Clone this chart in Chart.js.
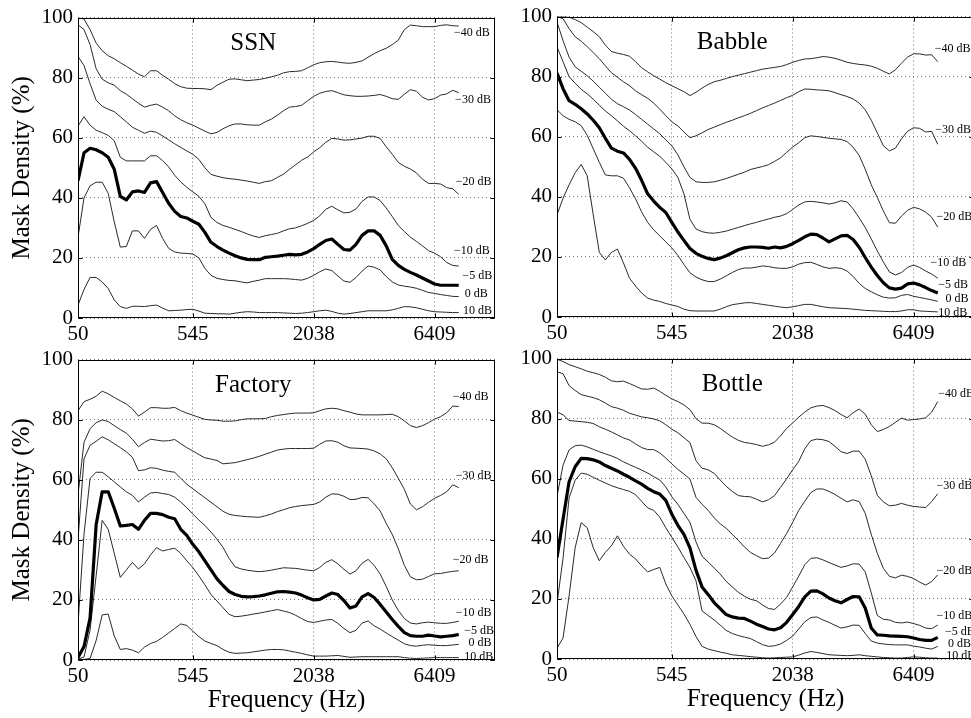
<!DOCTYPE html>
<html>
<head>
<meta charset="utf-8">
<script src="https://cdn.jsdelivr.net/npm/chart.js@4.4.1/dist/chart.umd.min.js"></script>
<style>
  html, body { margin: 0; padding: 0; background: #fff; overflow: hidden; width: 971px; height: 718px; }
  canvas { position: absolute; }
</style>
</head>
<body>
<canvas id="ssn"     width="495" height="360" style="left:0px;top:0px"></canvas>
<canvas id="babble"  width="495" height="360" style="left:479px;top:-1px"></canvas>
<canvas id="factory" width="495" height="376" style="left:0px;top:342px"></canvas>
<canvas id="bottle"  width="495" height="376" style="left:479px;top:341px"></canvas>
<script>
// Gammatone channel index (1..64) and the frequency labels shown at channels 1, 20, 40, 60
const channels = Array.from({ length: 64 }, (_, i) => i + 1);
const freqTickChannels = [1, 20, 40, 60];
const freqTickLabels = ['50', '545', '2038', '6409'];
const snrLabels = ['\u221240 dB', '\u221230 dB', '\u221220 dB', '\u221210 dB', '\u22125 dB', '0 dB', '10 dB'];

// ---- SSN: mask density (%) per channel, one array per SNR ----
const ssnM40 = [100, 99.5, 96, 91.5, 89, 87.3, 86.3, 85, 83.8, 82.5, 81.2, 80.3, 82.3, 82.3, 80.8, 79.5, 78, 77, 76.5, 76.4, 76.4, 76.3, 76, 77.5, 78.5, 79.5, 79.6, 79.3, 79, 79.2, 79.4, 79.8, 80.3, 80.8, 81.6, 82, 82.1, 82.3, 83.3, 84.3, 85, 85.3, 85.4, 85.2, 84.9, 84.8, 85.1, 85.6, 86.8, 88, 89, 89.8, 91, 92.5, 96, 97.5, 97.3, 97, 97, 97, 97.4, 97.6, 97.3, 97.2];
const ssnM30 = [97.6, 96, 91, 83, 79.5, 78.3, 77.5, 75.7, 74.5, 73, 71.5, 70.2, 70.8, 71.2, 70.2, 69, 67.3, 66, 65, 64.2, 63.2, 62.2, 61.3, 61.8, 63, 64, 64.6, 64.6, 64.3, 64.2, 64.2, 65.3, 66.2, 67.5, 69, 70.2, 70.4, 70.8, 72.3, 73.8, 74.8, 75.4, 75.7, 75, 74.3, 74, 73.8, 73.8, 73.9, 74.1, 74.4, 73.8, 73, 72.8, 74.5, 76, 75.5, 73.5, 72.6, 73, 74.2, 74.6, 75.8, 75];
const ssnM20 = [87.1, 84, 78, 72.5, 70.5, 69.5, 68.7, 67, 65.3, 63.5, 62.5, 61.5, 62.2, 61.8, 60.6, 59.3, 58, 56.8, 55.6, 54.5, 52.8, 50, 47.8, 47.2, 46.7, 46.4, 46.2, 45.9, 45.6, 45.2, 44.8, 45.4, 45.7, 46.8, 47.9, 49.5, 51, 52.5, 53.6, 55.3, 56.7, 58.5, 59.8, 59.6, 59.2, 59.3, 59.6, 59.9, 60.5, 60.5, 59.8, 57, 54.5, 51.8, 50.5, 49.6, 48.3, 46.2, 44.8, 44.8, 44.6, 43.4, 43, 41.2];
const ssnM10 = [63.9, 67, 64.2, 62.5, 61.7, 60.8, 59, 53.5, 52.3, 52.3, 52.3, 52.3, 54, 54, 52.4, 50.3, 47.5, 45.3, 43.5, 42, 40.5, 38, 33.5, 31.8, 30.8, 30.2, 29.5, 28.8, 28, 27.3, 26.8, 27.4, 27.8, 28.2, 29, 29.7, 30, 30.7, 31.5, 32.5, 34, 36.2, 37.2, 36, 35, 35.2, 36.3, 38.8, 40.3, 40.3, 39.1, 36.6, 33.8, 30.8, 28.8, 26.9, 25.5, 24, 22.4, 21.6, 20.4, 18.5, 17.5, 17.3];
const ssnM5 = [45.7, 55, 56.5, 56, 55, 53.5, 49.5, 40.5, 39.3, 42, 42.3, 41.8, 45, 45.4, 41.8, 38.2, 35.5, 33.8, 33.3, 32.2, 31.2, 28.5, 25.2, 23.8, 22.6, 21.6, 20.7, 20, 19.5, 19.4, 19.4, 20.2, 20.4, 20.6, 20.9, 21.2, 21, 21.2, 22, 23.1, 24.5, 25.8, 26.3, 24.5, 22.8, 22.6, 24.5, 27.5, 29, 29, 27.5, 24, 19.5, 17.5, 16.2, 15.2, 14.3, 13.3, 12.3, 11.3, 10.9, 10.9, 10.9, 10.9];
const ssn0 = [26.9, 40, 44, 45.2, 45.2, 41.5, 32, 23.6, 23.8, 29, 29, 26.5, 29.5, 30.8, 26.5, 23.2, 22, 21.6, 21.5, 21.3, 20, 16.5, 14.2, 13.2, 12.8, 12.5, 12.4, 12, 11.7, 12.2, 12.6, 13.1, 13.1, 13.1, 13.1, 13, 12.8, 12.6, 13.2, 14.2, 15.4, 16.3, 15.8, 14, 12.3, 11.9, 13.5, 15.6, 17.3, 16.9, 16, 13.8, 12, 11, 10.6, 10.3, 9.9, 9.2, 8.5, 8.2, 7.8, 7.5, 7.2, 7.1];
const ssn10 = [4.3, 9.5, 13.5, 13.5, 12, 9.8, 6, 3.8, 3.2, 3.9, 3.9, 3.8, 4.1, 4.3, 3.3, 2.4, 2.5, 2.6, 2.8, 2.9, 2.3, 1.6, 1.5, 1.4, 1.4, 1.3, 1.6, 1.9, 2.1, 2, 1.8, 1.8, 1.8, 1.8, 1.7, 1.6, 1.5, 1.6, 1.8, 2.1, 2.4, 2.6, 2.2, 1.6, 1.3, 1.5, 1.8, 2.1, 2.4, 2.4, 2.4, 2.4, 2.7, 3.2, 3.8, 3.7, 3.4, 2.9, 2.4, 2.1, 2, 1.9, 1.8, 1.8];

// ---- Babble ----
const babbleM40 = [100, 100, 99.8, 99, 98, 96.5, 95, 93.3, 90.5, 88.4, 87.8, 87.4, 86.8, 85, 83, 81.6, 80.3, 79.2, 78, 77, 76, 75, 73.7, 74.8, 76.2, 77.4, 78.3, 78.8, 79.4, 80, 80.5, 81, 81.5, 82, 82.5, 82.8, 83.1, 83.4, 84, 84.8, 85.4, 85.9, 86, 86.3, 86.7, 86.5, 86.1, 85.5, 84.8, 84.4, 84.1, 83.9, 83.5, 82.8, 81.8, 80.9, 82.3, 84.5, 86.5, 87.6, 87.6, 87.2, 87.3, 85];
const babbleM30 = [100, 99.3, 96, 93.3, 91.8, 90, 88, 86, 83.6, 81.3, 79.8, 78.3, 77, 75.3, 74, 72.8, 71.2, 69.2, 67, 65, 63.6, 61.6, 59.7, 60.3, 61.3, 62.4, 63.2, 64, 64.8, 65.5, 66.3, 67, 67.8, 68.7, 69.6, 70.4, 71.2, 72.1, 73, 73.8, 75, 75.9, 75.8, 75.6, 75.5, 75.3, 74.7, 74, 73.4, 72.6, 71.2, 69, 65.5, 61.3, 57, 55.3, 56.2, 59.3, 61.8, 63, 62.8, 61.6, 61.8, 57.5];
const babbleM20 = [98.2, 92, 86.5, 83.3, 81.8, 80.3, 78.5, 76.5, 74.5, 72.5, 71, 70, 68.9, 67.4, 65.8, 64.2, 62.6, 61, 59, 57, 54, 50, 46.5, 45, 44.8, 44.8, 45, 45.5, 46.1, 46.8, 47.5, 48.2, 49.1, 49.6, 50.1, 50.7, 51.8, 53, 54.8, 56.6, 58, 59.7, 60.3, 60.1, 59.8, 59.5, 59.3, 59.1, 58.4, 56.5, 53.8, 49.2, 44, 39.8, 35.3, 31.4, 31.2, 33.6, 35.5, 36.5, 36, 34.9, 33.2, 29.9];
const babbleM10 = [89.9, 85, 80, 77.8, 75.8, 74.3, 72.5, 70.5, 68.6, 67, 65.3, 63.5, 62, 60.3, 58.5, 56.5, 55, 53.5, 51.5, 49.3, 46.5, 41, 32.5, 29.3, 28.4, 28, 27.9, 28.2, 28.6, 29.2, 29.8, 30.4, 31, 31.5, 32.1, 32.6, 33.2, 33.6, 34.4, 35.8, 37.3, 38.3, 38.5, 38.3, 38, 37.6, 38, 38.7, 38.3, 36, 33, 29.8, 26, 22, 18.3, 15, 14, 14.8, 16.5, 17.3, 16.5, 15.3, 14.3, 12.9];
const babbleM5 = [81.2, 76, 72, 70.8, 69.3, 67.6, 65.5, 63, 59.5, 56.2, 55.2, 54.6, 52.5, 49.5, 45.5, 41, 38.6, 36.5, 34.8, 31.5, 28.3, 25.5, 22.8, 21.2, 20.2, 19.5, 19.1, 19.6, 20.4, 21.4, 22.4, 23, 23.3, 23.3, 23.2, 22.9, 23.3, 23, 23.5, 24.4, 25.5, 26.7, 27.6, 27.4, 26.3, 25, 26, 27, 27.2, 25.8, 23.2, 19.8, 16.6, 13.8, 11.4, 9.7, 9.3, 9.6, 11, 11.3, 10.7, 9.8, 8.8, 8];
const babble0 = [69, 67, 65.8, 65, 63.7, 60.5, 56, 51.5, 47.3, 47, 47, 46.2, 43, 39.3, 35, 31.5, 29, 27, 25, 23, 20.5, 17.5, 14.7, 13.3, 12.4, 11.8, 11.8, 12.6, 13.7, 14.8, 15.8, 16.3, 16.3, 16.6, 17, 16.8, 16.4, 16.2, 16.2, 16.7, 17.6, 18.1, 18.2, 17.5, 16.7, 16.2, 16.4, 16.2, 15.3, 13.5, 11.2, 9.5, 8.4, 7.4, 6.6, 6.3, 6.4, 7.2, 7.5, 6.9, 6.5, 6.1, 5.7, 5.2];
const babble10 = [34, 39.5, 44, 48, 50.8, 47, 34, 21.5, 19, 21.5, 22.6, 18, 12.9, 10.3, 8, 6.3, 5.6, 5.2, 4.5, 4, 3.5, 2.6, 2.1, 2, 2, 2, 2, 2.6, 3.4, 4.1, 4.4, 4.7, 4.8, 4.5, 4.2, 3.9, 3.6, 3.3, 3.1, 3.4, 3.8, 4.2, 4.2, 3.8, 3.4, 3.1, 3, 2.9, 2.8, 2.6, 2.4, 2.2, 2.1, 2, 1.9, 1.8, 1.8, 2, 2.4, 2.4, 2, 1.9, 1.8, 1.7];

// ---- Factory ----
const factoryM40 = [83, 86, 86.8, 87.8, 89.5, 88.6, 87.4, 86.3, 85.2, 83.6, 81.2, 82.5, 84, 84, 83.8, 83.8, 84.1, 83, 82.2, 81.5, 80.8, 80.1, 79.9, 79.8, 79.5, 79.5, 79.6, 80, 80.3, 80.3, 80.3, 80.4, 81, 81.4, 81.7, 82, 82.2, 82.2, 82.2, 82.3, 83, 83.6, 83.8, 83.6, 83, 82.5, 81.9, 81.6, 81.6, 81.6, 81.6, 81.7, 81.8, 81, 79.6, 78, 77.4, 78, 79, 80.2, 81, 82.3, 84.5, 84.4];
const factoryM30 = [55, 72.5, 77, 79, 79.9, 79.4, 78, 76.7, 75.5, 73.5, 71, 72.4, 73.5, 73.2, 72.9, 73, 73.4, 72, 70.7, 69.6, 68.4, 67.3, 66.9, 66.4, 65.3, 65.5, 65.7, 66.2, 66.7, 67.2, 67.8, 68.5, 69.2, 69.9, 70.2, 70.4, 70.4, 70.4, 70.4, 70.5, 71.8, 72.9, 73, 72.5, 71.3, 70.6, 70.5, 70.4, 70.2, 69.6, 68.6, 67, 64, 60.5, 56.8, 51.9, 50, 51, 52.5, 53.8, 54.8, 56, 58.3, 57.4];
const factoryM20 = [40, 67, 71.5, 72.8, 74.3, 73.3, 72, 70.7, 69.3, 67.5, 63, 63.3, 64, 63.8, 63.2, 62.8, 62.5, 60.5, 58.5, 57, 55.5, 54, 52.5, 51, 49.5, 48.5, 48.1, 47.9, 47.7, 47.6, 47.5, 48, 48.6, 49.4, 50, 50.7, 51.1, 51.4, 51.6, 51.8, 52.6, 54.2, 55.3, 55.2, 54.5, 53.4, 53.5, 54.1, 54, 52, 49.6, 45.5, 41.8, 37, 31.5, 27.7, 26.7, 26.9, 27.8, 28.7, 28.8, 29.2, 29.5, 29.7];
const factoryM10 = [12, 42, 60.5, 62.5, 62.5, 61, 59.3, 57.6, 56, 54.8, 52.6, 54.2, 55.6, 55.8, 55.4, 55.1, 54.2, 52.6, 50.7, 48.6, 46.6, 44.8, 42.6, 40.2, 37.5, 33.8, 31, 30.3, 29.9, 29.6, 29.4, 29.6, 29.9, 30.3, 30.7, 30.6, 30.5, 30.2, 29.9, 29.7, 30.8, 32.5, 33.4, 32, 30.2, 28.6, 29.7, 32.2, 33.5, 31.5, 28.6, 24.5, 20, 16.5, 13.8, 12.3, 12, 12.4, 12.6, 12.4, 12.2, 12.2, 12.5, 12.9];
const factoryM5 = [0.8, 4.5, 14, 45, 56, 56, 50.5, 44.6, 44.8, 45.1, 43.5, 46.5, 48.8, 48.8, 48.4, 47.5, 47, 43.5, 41.5, 38.5, 36, 33, 30, 27, 24.8, 22.8, 21.8, 21.2, 21, 21.1, 21.3, 21.7, 22.2, 22.7, 22.8, 22.6, 22.3, 21.6, 20.7, 20, 20.2, 21.3, 22.3, 21.8, 19.8, 17.3, 18, 21, 22.1, 20.8, 18.5, 16, 13.5, 11.2, 9.1, 8.1, 7.9, 7.9, 8.3, 8, 7.7, 7.9, 8.1, 8.5];
const factory0 = [0.3, 1, 10, 28, 46.5, 43.5, 35.5, 27.5, 30, 32.5, 30.3, 32, 35, 37.4, 36.3, 36.8, 37.2, 35.5, 33, 30.8, 28, 25, 21.8, 19.6, 17.4, 15.2, 14.4, 14.6, 14.9, 15.3, 15.6, 16, 16.4, 16.8, 16.3, 15.8, 14.9, 13.8, 12.8, 12.5, 12.9, 13.3, 13.5, 12.2, 10.5, 9.1, 9.9, 12.3, 13, 11.4, 10.3, 9, 7.8, 6.6, 5.4, 4.8, 4.6, 4.9, 5.1, 4.9, 4.8, 4.8, 5, 5.2];
const factory10 = [0.2, 0.2, 0.5, 6.5, 15, 15.3, 8, 3.5, 3.8, 3.3, 2.4, 4.3, 5.5, 6.2, 7.5, 9, 10.5, 12, 11.5, 9.6, 7.8, 6.3, 5.5, 4.8, 3.5, 2.6, 2.2, 2.3, 2.4, 2.7, 3, 3.3, 3.5, 3.5, 3.4, 3, 2.6, 2.2, 1.7, 1.3, 1.3, 1.3, 1.4, 1.5, 1.2, 0.9, 1, 1.1, 1.1, 1.1, 1.1, 1.1, 1.1, 1.1, 0.8, 0.6, 0.5, 0.6, 0.7, 0.8, 0.8, 0.8, 0.8, 0.8];

// ---- Bottle ----
const bottleM40 = [99.8, 99, 98, 97.3, 96.6, 95.8, 95.3, 94.7, 93.8, 92.6, 92.3, 92.5, 91.7, 90.8, 89.9, 89.8, 90.2, 89.1, 87.8, 86.6, 85.7, 84.6, 83, 80, 78.5, 78.5, 78, 76.8, 75.3, 73.9, 72.8, 72.1, 71.8, 71.4, 70.8, 71.3, 72.2, 74.3, 76.8, 78.6, 80.5, 82.2, 83.6, 84.2, 84.4, 83.7, 82.7, 81.4, 80.3, 82, 83.2, 81.5, 78, 75.7, 76.4, 77.4, 78.8, 80.2, 79.5, 79.7, 79.9, 80.3, 82.2, 85.7];
const bottleM30 = [95.6, 95, 91, 89.4, 88, 87.5, 87, 86.3, 85.2, 84, 83.5, 82.8, 81.8, 81.2, 80.6, 80.3, 79.9, 79.3, 78, 76.5, 75.3, 73.7, 72, 66, 63.5, 63, 61.8, 59.6, 57.5, 55.8, 54.4, 54.1, 54, 53.2, 52.3, 53, 54.4, 57.2, 60, 63, 65.8, 70, 72.7, 73.2, 73, 72.4, 70.8, 69, 68.4, 69.2, 69.2, 66.5, 61, 54.5, 52.3, 51, 51.2, 51.8, 51.2, 50.8, 50.6, 50.4, 52.4, 55];
const bottleM20 = [82.2, 81.3, 79.4, 79.2, 79, 78.8, 78.4, 77.3, 76.5, 75.6, 74.6, 73.6, 72.9, 71.6, 70.4, 69.7, 69.7, 68.6, 66.9, 65, 63.1, 61.6, 59.9, 53.8, 51.5, 49.5, 47, 45, 43.5, 41.5, 39.5, 37.3, 35.5, 34.4, 33.4, 33.6, 35.3, 38.5, 41.8, 45.5, 49.5, 52.5, 55.4, 56.6, 56.6, 55.8, 54.8, 53.5, 52.3, 53, 52.4, 48.5, 41.5, 35.2, 30.2, 27.5, 27, 27.9, 27.5, 26.8, 25.6, 24.6, 25.8, 28];
const bottleM10 = [54.2, 64.5, 69.6, 71, 71.2, 70.6, 69.8, 69, 68.3, 67.6, 66.8, 65.6, 64.7, 63.8, 62.9, 61.9, 60.7, 59.6, 57.3, 54, 51.5, 48.5, 45.5, 39, 34.2, 32.3, 30.3, 28.3, 25.8, 24, 22.2, 20.9, 19.9, 19.4, 18, 16.8, 16.5, 18.3, 20.5, 24, 27.6, 31.4, 33.5, 33.7, 33, 32.1, 31.3, 30.5, 31, 31.7, 31.6, 29, 22, 14.5, 13.2, 13, 12.2, 12, 12.3, 11.8, 11.2, 10.3, 10.1, 11.3];
const bottleM5 = [33.8, 46.5, 59, 64, 66.8, 66.7, 66.3, 65.6, 64.4, 63.5, 62.6, 61.5, 60.5, 59.3, 58.2, 56.8, 55.7, 54.9, 52.8, 48.2, 44.5, 41.5, 37, 29.5, 24, 21.5, 18.8, 16.8, 14.8, 14, 13.6, 13.5, 12.6, 11.6, 10.8, 10, 9.7, 10.4, 12.2, 14.8, 17.5, 20.7, 22.6, 22.7, 21.7, 20.3, 19.4, 18.7, 19.8, 20.8, 20.7, 17, 10.3, 8, 7.9, 7.7, 7.6, 7.5, 7.4, 7, 6.5, 6.2, 6.2, 7.2];
const bottle0 = [18.5, 33.5, 53.6, 59.5, 61.9, 61.5, 60.5, 59.5, 58.6, 57.7, 57, 56.4, 55.8, 54.7, 52.5, 50.3, 49.5, 47.2, 43.7, 40.5, 37.3, 33.8, 30.5, 26, 16, 14.5, 13, 11.3, 9.5, 8.5, 7.8, 7.3, 6.8, 5.8, 4.8, 4.2, 4.4, 5, 6.2, 7.6, 10, 12.4, 13.8, 14, 13, 12.2, 11.2, 10.3, 10.7, 11.3, 11.2, 8.5, 6, 5.3, 5, 4.8, 4.7, 4.7, 4.7, 4.3, 4, 3.6, 3.3, 4.2];
const bottle10 = [3.6, 7, 21, 37, 45.4, 43.7, 37, 32.7, 35.5, 37.7, 41, 37.5, 34.9, 33.3, 31, 29, 29.8, 30.5, 25, 21, 18, 15, 11.5, 7.5, 4.2, 3.3, 2.8, 2.3, 1.9, 1.4, 1.2, 1, 0.8, 0.6, 0.4, 0.3, 0.4, 0.5, 0.6, 0.7, 1.3, 2, 2.5, 2.2, 1.8, 1.4, 1.3, 1.2, 1.1, 1.2, 1.4, 1.1, 0.9, 0.7, 0.5, 0.4, 0.3, 0.3, 0.5, 0.7, 0.6, 0.4, 0.3, 0.3];

// Where each SNR label sits in each panel: [channel, mask density %]
const ssnLabelCh = [63.2, 63.4, 63.5, 63.2, 64.6, 65, 64.7];
const ssnLabelPct = [94.8, 72.5, 45.4, 22.2, 14.1, 7.9, 2.4];
const babbleLabelCh = [63.5, 63.6, 63.8, 62.8, 64.1, 65.3, 64.1];
const babbleLabelPct = [89.2, 62.3, 33.2, 18.0, 10.6, 5.9, 1.5];
const factoryLabelCh = [63.0, 63.5, 63.0, 63.5, 64.9, 65.6, 64.9];
const factoryLabelPct = [87.7, 61.3, 33.2, 15.8, 9.8, 5.7, 1.1];
const bottleLabelCh = [64.1, 63.8, 63.8, 63.8, 65.2, 65.7, 65.4];
const bottleLabelPct = [88.4, 57.5, 29.4, 14.5, 9.1, 4.9, 0.9];

const SERIF = "'Liberation Serif', 'Times New Roman', Times, serif";
const GRID = '#7a7a7a';

// Box around the axes, inward tick marks, panel name and SNR labels
const panelFrame = {
  id: 'panelFrame',
  afterDatasetsDraw(chart, args, opts) {
    const { ctx, chartArea: a, scales: { x, y } } = chart;
    ctx.save();
    ctx.beginPath();
    ctx.rect(a.left, a.top, a.right - a.left, a.bottom - a.top);
    ctx.clip();
    ctx.fillStyle = '#000';
    ctx.font = '25px ' + SERIF;
    ctx.textAlign = 'center';
    ctx.textBaseline = 'alphabetic';
    ctx.fillText(opts.name, x.getPixelForValue(30), y.getPixelForValue(89.3));
    ctx.font = '12px ' + SERIF;
    ctx.textAlign = 'left';
    ctx.textBaseline = 'middle';
    snrLabels.forEach((t, k) => {
      ctx.fillText(t, x.getPixelForValue(opts.labelCh[k]), y.getPixelForValue(opts.labelPct[k]));
    });
    ctx.restore();

    ctx.save();
    ctx.strokeStyle = '#000';
    ctx.lineWidth = 1;
    const L = Math.round(a.left) + 0.5, R = Math.round(a.right) - 0.5;
    const T = Math.round(a.top) + 0.5, B = Math.round(a.bottom) - 0.5;
    ctx.strokeRect(L, T, R - L, B - T);
    const tl = 4;
    ctx.beginPath();
    freqTickChannels.forEach(c => {
      const px = Math.round(x.getPixelForValue(c)) + 0.5;
      ctx.moveTo(px, B); ctx.lineTo(px, B - tl);
      ctx.moveTo(px, T); ctx.lineTo(px, T + tl);
    });
    y.ticks.forEach(t => {
      const py = Math.round(y.getPixelForValue(t.value)) + 0.5;
      ctx.moveTo(L, py); ctx.lineTo(L + tl, py);
      ctx.moveTo(R, py); ctx.lineTo(R - tl, py);
    });
    ctx.stroke();
    ctx.restore();
  }
};

function makePanel(id, name, series, labelCh, labelPct, showYTitle, showXTitle, xAxisHeight) {
  const datasets = series.map((vals, k) => ({
    label: snrLabels[k],
    data: vals.map((v, i) => ({ x: channels[i], y: v })),
    borderColor: k === 4 ? '#000' : '#2a2a2a',
    borderWidth: k === 4 ? 3.2 : 1,
    borderJoinStyle: 'round',
    pointRadius: 0,
    tension: 0,
    fill: false,
    order: k === 4 ? 0 : 1
  }));
  return new Chart(document.getElementById(id), {
    type: 'line',
    data: { datasets },
    plugins: [panelFrame],
    options: {
      responsive: false,
      animation: false,
      devicePixelRatio: 1,
      layout: { padding: { top: 16, left: 0, right: 0, bottom: 0 } },
      plugins: {
        legend: { display: false },
        tooltip: { enabled: false },
        panelFrame: { name, labelCh, labelPct }
      },
      scales: {
        x: {
          type: 'linear',
          min: 1,
          max: 70,
          afterBuildTicks: s => { s.ticks = freqTickChannels.map(v => ({ value: v })); },
          afterFit: s => { s.height = xAxisHeight; },
          ticks: {
            autoSkip: false,
            maxRotation: 0,
            padding: 4,
            color: '#000',
            font: { family: SERIF, size: 21 },
            callback: (v, i) => freqTickLabels[i]
          },
          grid: { color: GRID, lineWidth: 1, drawTicks: false },
          border: { display: false, dash: [1, 3] },
          title: {
            display: showXTitle,
            text: 'Frequency (Hz)',
            color: '#000',
            font: { family: SERIF, size: 25, lineHeight: 1 },
            padding: { top: 0, bottom: 5.5 }
          }
        },
        y: {
          min: 0,
          max: 100,
          afterFit: s => { s.width = 78; },
          ticks: {
            stepSize: 20,
            padding: 5,
            color: '#000',
            font: { family: SERIF, size: 21 }
          },
          grid: { color: GRID, lineWidth: 1, drawTicks: false },
          border: { display: false, dash: [1, 3] },
          title: {
            display: showYTitle,
            text: 'Mask Density (%)',
            color: '#000',
            font: { family: SERIF, size: 25, lineHeight: 1 },
            padding: { top: 10, bottom: 0 }
          }
        }
      }
    }
  });
}

makePanel('ssn', 'SSN', [ssnM40, ssnM30, ssnM20, ssnM10, ssnM5, ssn0, ssn10], ssnLabelCh, ssnLabelPct, true, false, 42);
makePanel('babble', 'Babble', [babbleM40, babbleM30, babbleM20, babbleM10, babbleM5, babble0, babble10], babbleLabelCh, babbleLabelPct, false, false, 42);
makePanel('factory', 'Factory', [factoryM40, factoryM30, factoryM20, factoryM10, factoryM5, factory0, factory10], factoryLabelCh, factoryLabelPct, true, true, 58);
makePanel('bottle', 'Bottle', [bottleM40, bottleM30, bottleM20, bottleM10, bottleM5, bottle0, bottle10], bottleLabelCh, bottleLabelPct, false, true, 58);
</script>
</body>
</html>
